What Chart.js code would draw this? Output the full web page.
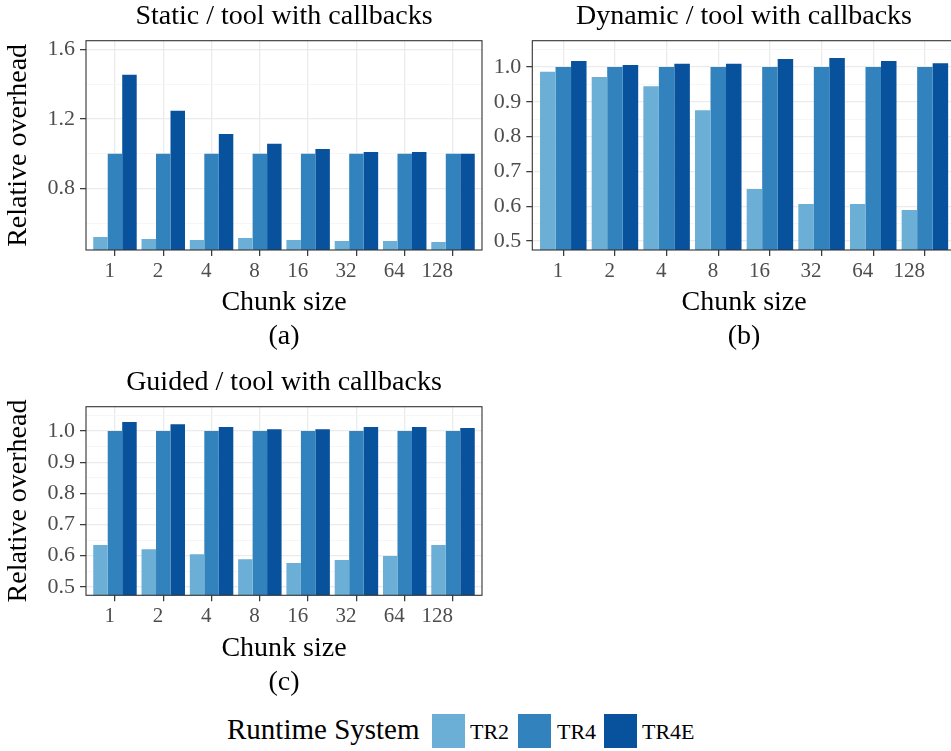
<!DOCTYPE html>
<html>
<head>
<meta charset="utf-8">
<script src="https://cdn.jsdelivr.net/npm/chart.js@4/dist/chart.umd.min.js"></script>
<style>
  html, body { margin: 0; padding: 0; background: #fff; }
  body { width: 951px; height: 751px; overflow: hidden; position: relative; font-family: 'Liberation Serif', serif; }
  canvas { position: absolute; }
  .lg { position: absolute; white-space: nowrap; color: #000; }
  .sw { position: absolute; width: 33px; height: 34px; }
</style>
</head>
<body>
<canvas id="pStatic" width="568" height="360" style="left:0;top:0"></canvas>
<canvas id="pDynamic" width="518" height="360" style="left:485px;top:0"></canvas>
<canvas id="pGuided" width="568" height="340" style="left:0;top:366px"></canvas>

<div class="lg" style="left:227px;top:715px;font-size:29px;line-height:29px">Runtime System</div>
<div class="sw" id="sw0" style="left:432px;top:714px"></div>
<div class="lg" id="lb0" style="left:470px;top:721px;font-size:22px;line-height:22px"></div>
<div class="sw" id="sw1" style="left:518px;top:714px"></div>
<div class="lg" id="lb1" style="left:557px;top:721px;font-size:22px;line-height:22px"></div>
<div class="sw" id="sw2" style="left:604px;top:714px"></div>
<div class="lg" id="lb2" style="left:642px;top:721px;font-size:22px;line-height:22px"></div>

<script>
// Chunk sizes on the x axis
const chunkSizes = ['1', '2', '4', '8', '16', '32', '64', '128'];
const runtimeSystems = ['TR2', 'TR4', 'TR4E'];
const systemColors = ['#6baed6', '#3182bd', '#08519c'];

// Relative overhead, static schedule
const staticTR2  = [0.522, 0.511, 0.505, 0.517, 0.505, 0.499, 0.499, 0.494];
const staticTR4  = [1.0, 1.0, 1.0, 1.0, 1.0, 1.0, 1.0, 1.0];
const staticTR4E = [1.453, 1.247, 1.114, 1.057, 1.028, 1.011, 1.011, 1.0];

// Relative overhead, dynamic schedule
const dynamicTR2  = [0.986, 0.971, 0.945, 0.876, 0.649, 0.606, 0.606, 0.589];
const dynamicTR4  = [1.0, 1.0, 1.0, 1.0, 1.0, 1.0, 1.0, 1.0];
const dynamicTR4E = [1.017, 1.006, 1.009, 1.009, 1.023, 1.026, 1.017, 1.011];

// Relative overhead, guided schedule
const guidedTR2  = [0.634, 0.621, 0.605, 0.589, 0.577, 0.586, 0.599, 0.634];
const guidedTR4  = [1.0, 1.0, 1.0, 1.0, 1.0, 1.0, 1.0, 1.0];
const guidedTR4E = [1.029, 1.022, 1.013, 1.006, 1.006, 1.013, 1.013, 1.010];

// Y axis breaks (labelled) and minor breaks (grid only)
const staticTicks  = [0.8, 1.2, 1.6];
const staticMinor  = [0.6, 1.0, 1.4];
const tenthTicks   = [0.5, 0.6, 0.7, 0.8, 0.9, 1.0];
const tenthMinor   = [0.55, 0.65, 0.75, 0.85, 0.95, 1.05];

const FONT = "'Liberation Serif', serif";

// legend
runtimeSystems.forEach((name, i) => {
  document.getElementById('sw' + i).style.background = systemColors[i];
  document.getElementById('lb' + i).textContent = name;
});

// frame around the plotting panel
const panelBox = {
  id: 'panelBox',
  afterDatasetsDraw(chart) {
    const { ctx, chartArea: a } = chart;
    ctx.save();
    ctx.strokeStyle = '#333333';
    ctx.lineWidth = 1.1;
    ctx.strokeRect(a.left, a.top, a.right - a.left, a.bottom - a.top);
    ctx.restore();
  }
};

function makePanel(id, cfg) {
  const isMajor = v => cfg.major.includes(v);
  const datasets = cfg.series.map((vals, s) => ({
    label: runtimeSystems[s],
    data: vals.map((v, i) => ({ x: i, y: v })),
    backgroundColor: systemColors[s],
    borderWidth: 0,
    categoryPercentage: 0.9,
    barPercentage: 1.0,
    clip: 0
  }));

  new Chart(document.getElementById(id), {
    type: 'bar',
    data: { datasets },
    plugins: [panelBox],
    options: {
      responsive: false,
      animation: false,
      devicePixelRatio: 1,
      layout: { padding: 0 },
      plugins: {
        legend: { display: false },
        tooltip: { enabled: false },
        title: {
          display: true,
          text: cfg.title,
          color: '#000',
          font: { family: FONT, size: 28, weight: 'normal', lineHeight: 1.2 },
          padding: { top: 0, bottom: 7.1 }
        }
      },
      scales: {
        x: {
          type: 'linear',
          min: -0.6,
          max: chunkSizes.length - 0.4,
          offset: false,
          afterBuildTicks: s => { s.ticks = chunkSizes.map((_, i) => ({ value: i })); },
          afterFit: s => { s.height = cfg.xAxisHeight; },
          ticks: {
            autoSkip: false,
            maxRotation: 0,
            align: 'end',
            padding: 3,
            color: '#4d4d4d',
            font: { family: FONT, size: 21 },
            callback: v => chunkSizes[v]
          },
          grid: {
            offset: false,
            color: '#ebebeb',
            lineWidth: 1.3,
            tickLength: 6,
            tickWidth: 1.2,
            tickColor: '#333333'
          },
          border: { display: false },
          title: {
            display: true,
            text: ['Chunk size', cfg.letter],
            color: '#000',
            font: { family: FONT, size: 28, lineHeight: 1.2 },
            padding: { top: 0, bottom: cfg.titlePadBottom }
          }
        },
        y: {
          min: cfg.yMin,
          max: cfg.yMax,
          afterBuildTicks: s => {
            s.ticks = cfg.major.concat(cfg.minor).sort((a, b) => a - b).map(v => ({ value: v }));
          },
          afterFit: s => { s.width = cfg.yAxisWidth; },
          ticks: {
            autoSkip: false,
            padding: 5,
            color: '#4d4d4d',
            font: { family: FONT, size: 22 },
            callback: v => isMajor(v) ? v.toFixed(1) : ''
          },
          grid: {
            color: c => isMajor(c.tick.value) ? '#ebebeb' : '#f4f4f4',
            lineWidth: c => isMajor(c.tick.value) ? 1.3 : 0.8,
            tickLength: 6,
            tickWidth: 1.2,
            tickColor: c => isMajor(c.tick.value) ? '#333333' : 'rgba(0,0,0,0)'
          },
          border: { display: false },
          title: {
            display: cfg.yTitle,
            text: 'Relative overhead',
            color: '#000',
            font: { family: FONT, size: 28, lineHeight: 1.2 },
            padding: { top: 2, bottom: 0 }
          }
        },
        // empty right-hand margin so the panel title centres over the plot
        margin: {
          type: 'linear',
          position: 'right',
          display: true,
          afterFit: s => { s.width = cfg.rightMargin; },
          ticks: { display: false },
          grid: { display: false, drawTicks: false },
          border: { display: false }
        }
      }
    }
  });
}

makePanel('pStatic', {
  title: 'Static / tool with callbacks', letter: '(a)',
  series: [staticTR2, staticTR4, staticTR4E],
  yMin: 0.448, yMax: 1.649, major: staticTicks, minor: staticMinor,
  yTitle: true, yAxisWidth: 86, rightMargin: 86, xAxisHeight: 110, titlePadBottom: 6.7
});

makePanel('pDynamic', {
  title: 'Dynamic / tool with callbacks', letter: '(b)',
  series: [dynamicTR2, dynamicTR4, dynamicTR4E],
  yMin: 0.474, yMax: 1.0756, major: tenthTicks, minor: tenthMinor,
  yTitle: false, yAxisWidth: 47.3, rightMargin: 47.1, xAxisHeight: 110, titlePadBottom: 6.7
});

makePanel('pGuided', {
  title: 'Guided / tool with callbacks', letter: '(c)',
  series: [guidedTR2, guidedTR4, guidedTR4E],
  yMin: 0.473, yMax: 1.078, major: tenthTicks, minor: tenthMinor,
  yTitle: true, yAxisWidth: 86, rightMargin: 86, xAxisHeight: 110.7, titlePadBottom: 6.7
});
</script>
</body>
</html>
